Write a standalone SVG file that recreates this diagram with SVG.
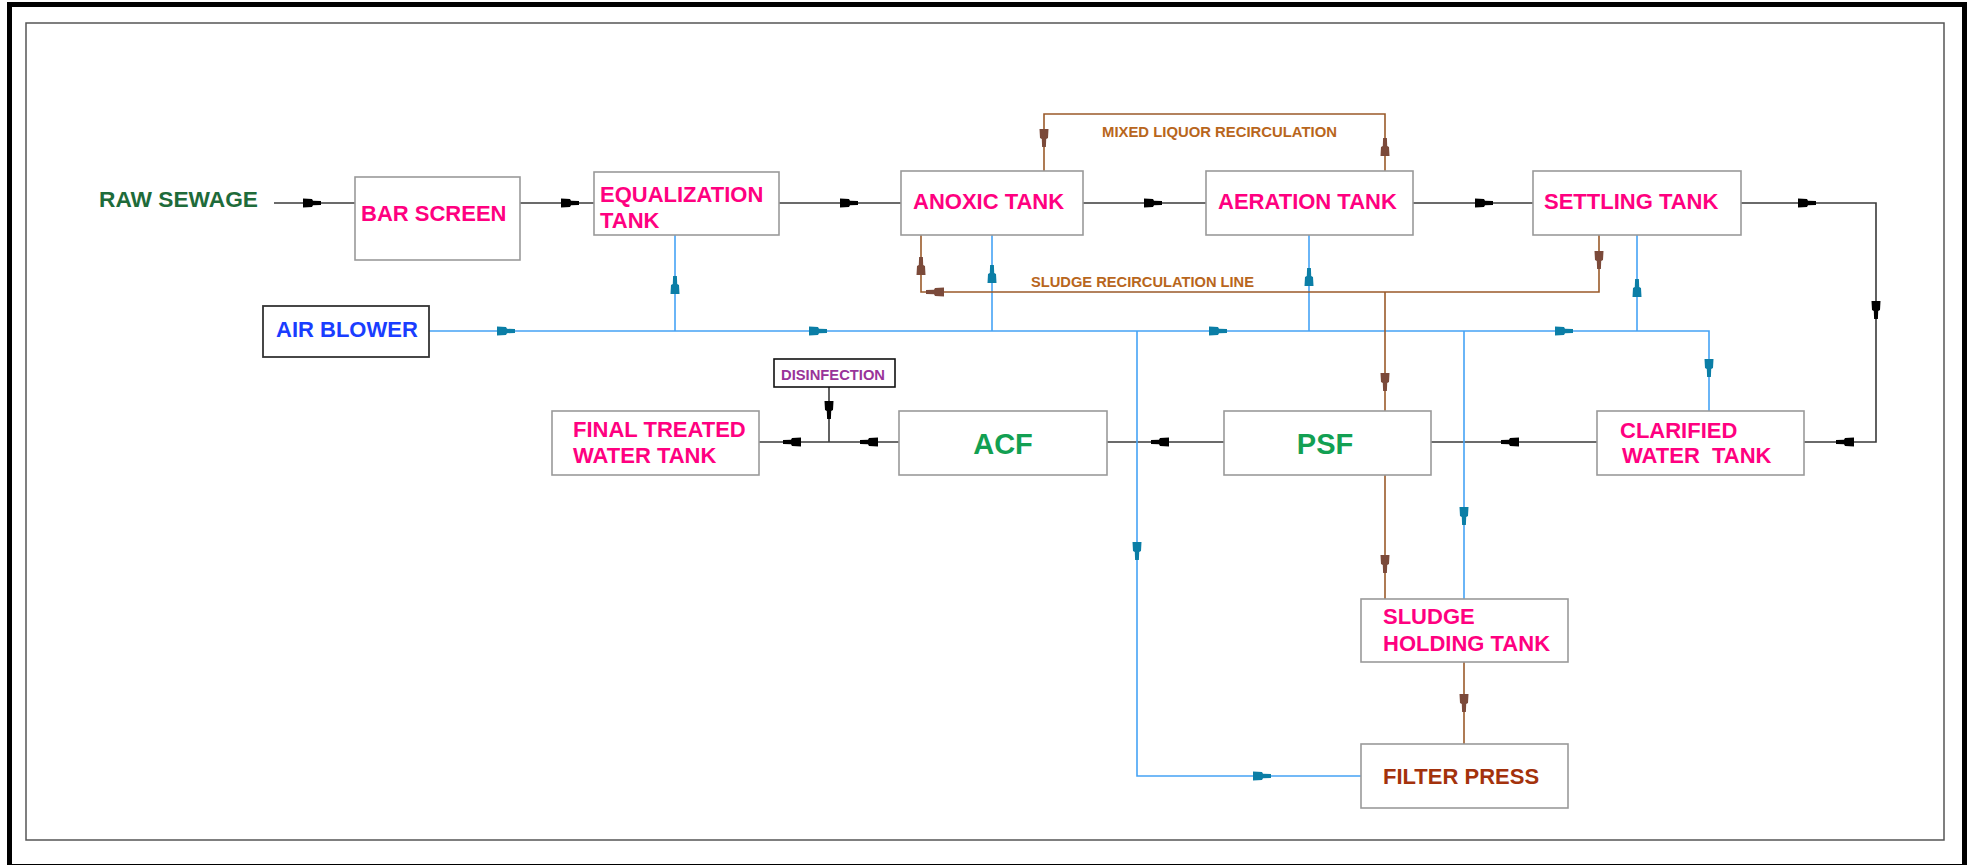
<svg xmlns="http://www.w3.org/2000/svg" xmlns:xlink="http://www.w3.org/1999/xlink" width="1970" height="865" viewBox="0 0 1970 865">
<defs>
<style>
.box{fill:#fff;stroke:#9a9a9a;stroke-width:1.6}
.boxd{fill:#fff;stroke:#333;stroke-width:1.8}
.t{font-family:"Liberation Sans",Arial,Helvetica,sans-serif;font-weight:bold}
.pk{fill:#ff0080;font-size:22px}
.lk{fill:none;stroke:#3a3a3a;stroke-width:1.6}
.lb{fill:none;stroke:#45a3f5;stroke-width:1.6}
.lr{fill:none;stroke:#9a5a2a;stroke-width:1.6}
.ak{fill:#000}
.ab{fill:#0b7ea6}
.ar{fill:#7b4a3a}
.lbl{fill:#b8661c;font-size:15px}
</style>
<path id="ah" d="M0,-4.5 L9,-4 L10,-2.2 L18,-1.9 L18,1.9 L10,2.2 L9,4 L0,4.5 Z"/>
</defs>
<rect width="1970" height="865" fill="#fff"/>
<rect x="9.5" y="4.5" width="1955" height="862" fill="none" stroke="#000" stroke-width="5"/>
<rect x="26" y="23" width="1918" height="817" fill="none" stroke="#555" stroke-width="1.5"/>

<g id="connectors">
  <!-- process line (black) -->
  <path class="lk" d="M274,203 H355"/>
  <path class="lk" d="M520,203 H594"/>
  <path class="lk" d="M779,203 H901"/>
  <path class="lk" d="M1083,203 H1206"/>
  <path class="lk" d="M1413,203 H1533"/>
  <path class="lk" d="M1741,203 H1876 V442 H1804"/>
  <path class="lk" d="M1597,442 H1431"/>
  <path class="lk" d="M1224,442 H1107"/>
  <path class="lk" d="M899,442 H759"/>
  <path class="lk" d="M829,387 V442"/>
  <!-- air lines (blue) -->
  <path class="lb" d="M429,331 H1709 V411"/>
  <path class="lb" d="M675,331 V235"/>
  <path class="lb" d="M992,331 V235"/>
  <path class="lb" d="M1309,331 V235"/>
  <path class="lb" d="M1637,331 V235"/>
  <path class="lb" d="M1137,331 V776 H1361"/>
  <path class="lb" d="M1464,331 V599"/>
  <!-- sludge / recirculation (brown) -->
  <path class="lr" d="M1385,171 V114 H1044 V171"/>
  <path class="lr" d="M1599,235 V292 H921 V235"/>
  <path class="lr" d="M1385,292 V599"/>
  <path class="lr" d="M1464,662 V744"/>

  <!-- arrowheads black -->
  <use xlink:href="#ah" class="ak" transform="translate(303,203)"/>
  <use xlink:href="#ah" class="ak" transform="translate(561,203)"/>
  <use xlink:href="#ah" class="ak" transform="translate(840,203)"/>
  <use xlink:href="#ah" class="ak" transform="translate(1144,203)"/>
  <use xlink:href="#ah" class="ak" transform="translate(1475,203)"/>
  <use xlink:href="#ah" class="ak" transform="translate(1798,203)"/>
  <use xlink:href="#ah" class="ak" transform="translate(1876,301) rotate(90)"/>
  <use xlink:href="#ah" class="ak" transform="translate(1854,442) rotate(180)"/>
  <use xlink:href="#ah" class="ak" transform="translate(1519,442) rotate(180)"/>
  <use xlink:href="#ah" class="ak" transform="translate(1169,442) rotate(180)"/>
  <use xlink:href="#ah" class="ak" transform="translate(878,442) rotate(180)"/>
  <use xlink:href="#ah" class="ak" transform="translate(801,442) rotate(180)"/>
  <use xlink:href="#ah" class="ak" transform="translate(829,401) rotate(90)"/>
  <!-- arrowheads blue -->
  <use xlink:href="#ah" class="ab" transform="translate(497,331)"/>
  <use xlink:href="#ah" class="ab" transform="translate(809,331)"/>
  <use xlink:href="#ah" class="ab" transform="translate(1209,331)"/>
  <use xlink:href="#ah" class="ab" transform="translate(1555,331)"/>
  <use xlink:href="#ah" class="ab" transform="translate(675,294) rotate(-90)"/>
  <use xlink:href="#ah" class="ab" transform="translate(992,283) rotate(-90)"/>
  <use xlink:href="#ah" class="ab" transform="translate(1309,286) rotate(-90)"/>
  <use xlink:href="#ah" class="ab" transform="translate(1637,297) rotate(-90)"/>
  <use xlink:href="#ah" class="ab" transform="translate(1709,359) rotate(90)"/>
  <use xlink:href="#ah" class="ab" transform="translate(1137,542) rotate(90)"/>
  <use xlink:href="#ah" class="ab" transform="translate(1253,776)"/>
  <use xlink:href="#ah" class="ab" transform="translate(1464,507) rotate(90)"/>
  <!-- arrowheads brown -->
  <use xlink:href="#ah" class="ar" transform="translate(1385,156) rotate(-90)"/>
  <use xlink:href="#ah" class="ar" transform="translate(1044,129) rotate(90)"/>
  <use xlink:href="#ah" class="ar" transform="translate(1599,251) rotate(90)"/>
  <use xlink:href="#ah" class="ar" transform="translate(944,292) rotate(180)"/>
  <use xlink:href="#ah" class="ar" transform="translate(921,275) rotate(-90)"/>
  <use xlink:href="#ah" class="ar" transform="translate(1385,373) rotate(90)"/>
  <use xlink:href="#ah" class="ar" transform="translate(1385,555) rotate(90)"/>
  <use xlink:href="#ah" class="ar" transform="translate(1464,694) rotate(90)"/>

  <text class="t lbl" x="1102" y="137" textLength="235" lengthAdjust="spacingAndGlyphs">MIXED LIQUOR RECIRCULATION</text>
  <text class="t lbl" x="1031" y="287" font-size="14" textLength="223" lengthAdjust="spacingAndGlyphs">SLUDGE RECIRCULATION LINE</text>
</g>

<g id="raw-sewage">
  <text class="t" x="99" y="207" font-size="22" fill="#1e6b3a" textLength="159" lengthAdjust="spacingAndGlyphs">RAW SEWAGE</text>
</g>
<g id="bar-screen">
  <rect class="box" x="355" y="177" width="165" height="83"/>
  <text class="t pk" x="361" y="221">BAR SCREEN</text>
</g>
<g id="equalization-tank">
  <rect class="box" x="594" y="172" width="185" height="63"/>
  <text class="t pk" x="600" y="202">EQUALIZATION</text>
  <text class="t pk" x="600" y="228">TANK</text>
</g>
<g id="anoxic-tank">
  <rect class="box" x="901" y="171" width="182" height="64"/>
  <text class="t pk" x="913" y="209">ANOXIC TANK</text>
</g>
<g id="aeration-tank">
  <rect class="box" x="1206" y="171" width="207" height="64"/>
  <text class="t pk" x="1218" y="209">AERATION TANK</text>
</g>
<g id="settling-tank">
  <rect class="box" x="1533" y="171" width="208" height="64"/>
  <text class="t pk" x="1544" y="209">SETTLING TANK</text>
</g>
<g id="air-blower">
  <rect class="boxd" x="263" y="306" width="166" height="51"/>
  <text class="t" x="276" y="337" font-size="22" fill="#1a3dff">AIR BLOWER</text>
</g>
<g id="disinfection">
  <rect x="774" y="359" width="121" height="28" fill="#fff" stroke="#111" stroke-width="1.6"/>
  <text class="t" x="781" y="380" font-size="15" fill="#993399" textLength="104" lengthAdjust="spacingAndGlyphs">DISINFECTION</text>
</g>
<g id="final-treated-water-tank">
  <rect class="box" x="552" y="411" width="207" height="64"/>
  <text class="t pk" x="573" y="437">FINAL TREATED</text>
  <text class="t pk" x="573" y="463">WATER TANK</text>
</g>
<g id="acf">
  <rect class="box" x="899" y="411" width="208" height="64"/>
  <text class="t" x="1003" y="454" font-size="29" fill="#12a052" text-anchor="middle">ACF</text>
</g>
<g id="psf">
  <rect class="box" x="1224" y="411" width="207" height="64"/>
  <text class="t" x="1325" y="454" font-size="29" fill="#12a052" text-anchor="middle">PSF</text>
</g>
<g id="clarified-water-tank">
  <rect class="box" x="1597" y="411" width="207" height="64"/>
  <text class="t pk" x="1620" y="438">CLARIFIED</text>
  <text class="t pk" x="1622" y="463" style="white-space:pre">WATER  TANK</text>
</g>
<g id="sludge-holding-tank">
  <rect class="box" x="1361" y="599" width="207" height="63"/>
  <text class="t pk" x="1383" y="624">SLUDGE</text>
  <text class="t pk" x="1383" y="651">HOLDING TANK</text>
</g>
<g id="filter-press">
  <rect class="box" x="1361" y="744" width="207" height="64"/>
  <text class="t" x="1383" y="784" font-size="22" fill="#a3320c">FILTER PRESS</text>
</g>
</svg>
